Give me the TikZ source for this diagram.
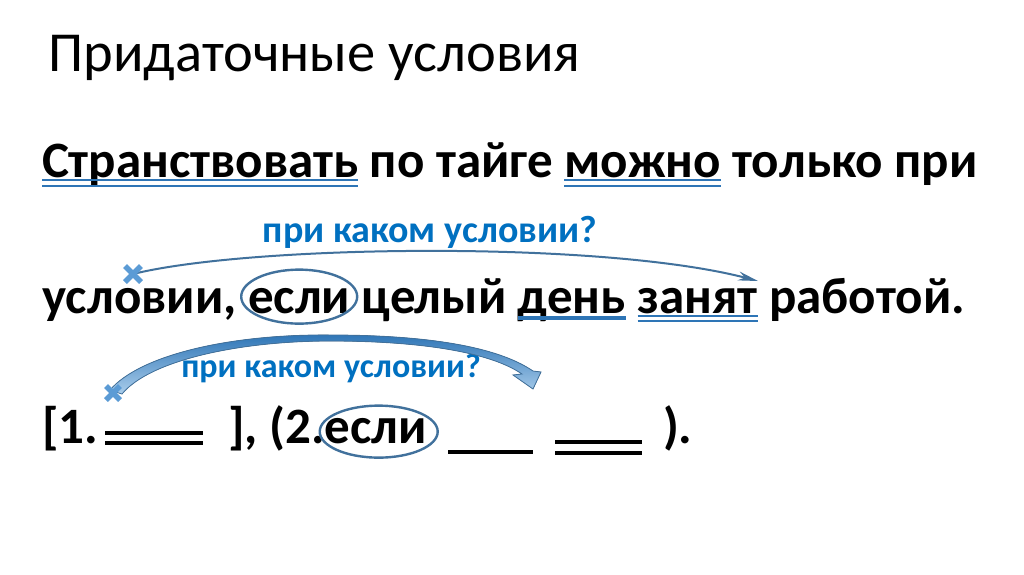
\documentclass[tikz,border=0pt]{standalone}
\usepackage{fontspec}
\setmainfont{Carlito}
\usetikzlibrary{arrows.meta,calc}
\definecolor{ublue}{RGB}{0,112,192}
\definecolor{lblue}{RGB}{46,117,182}
\definecolor{sblue}{RGB}{65,113,156}
\definecolor{xblue}{RGB}{91,155,213}
\definecolor{pblue}{RGB}{170,205,235}
\newcommand{\wsp}{\ \kern0pt}
\begin{document}
\begin{tikzpicture}[x=1pt,y=-1pt,
  word/.style={anchor=base west,inner sep=0pt,outer sep=0pt,font=\fontsize{51}{55}\selectfont\bfseries},
  qtext/.style={anchor=base,inner sep=0pt,text=ublue,font=\fontsize{38}{42}\selectfont\bfseries},
  dbl/.style={draw=lblue,line width=1.6pt},
  sgl/.style={draw=lblue,line width=3.5pt},
  bline/.style={draw=black,line width=3.5pt},
  ring/.style={draw=sblue,line width=2.4pt},
  xmark/.style={draw=xblue,line width=5.5pt},
  thinarrow/.style={draw=sblue,line width=2pt,-{Stealth[length=20pt,width=9pt,fill=xblue]}}]
\useasboundingbox (0,0) rectangle (1024,574);
\fill[white] (0,0) rectangle (1024,574);

\node[anchor=base west,inner sep=0pt,font=\fontsize{56.5}{60}\selectfont] (title) at (48,71) {Придаточные условия};

% line 1
\node[word] (w11) at (42,177) {Странствовать};
\node[word] (w12) at (w11.base east) {\ по тайге\wsp};
\node[word] (w13) at (w12.base east) {можно};
\node[word] (w14) at (w13.base east) {\ только при};
\foreach \w in {w11,w13}{
  \draw[dbl] ($(\w.base west)+(0,3)$) -- ($(\w.base east)+(0,3)$);
  \draw[dbl] ($(\w.base west)+(0,9)$) -- ($(\w.base east)+(0,9)$);
}

% question 1
\node[qtext] (q1) at (430,242) {при каком условии?};

% line 2
\node[word] (w21) at (42,313) {условии,\wsp};
\node[word] (w22) at (w21.base east) {если};
\node[word] (w23) at (w22.base east) {\ целый\wsp};
\node[word] (w24) at (w23.base east) {день};
\node[word] (w25) at (w24.base east) {\wsp};
\node[word] (w26) at (w25.base east) {занят};
\node[word] (w27) at (w26.base east) {\ работой.};
\draw[sgl] ($(w24.base west)+(0,5)$) -- ($(w24.base east)+(0,5)$);
\draw[dbl] ($(w26.base west)+(0,3)$) -- ($(w26.base east)+(0,3)$);
\draw[dbl] ($(w26.base west)+(0,8)$) -- ($(w26.base east)+(0,8)$);
\draw[ring] ($(w22.center)+(0,-4)$) ellipse [x radius=58, y radius=27];

% thin arrow
\coordinate (x1) at (133,274);
\coordinate (a1) at (758,281);
\draw[thinarrow] (x1) .. controls (250,245) and (600,240) .. (a1);
\draw[xmark] ($(x1)+(-8,-8)$) -- ($(x1)+(8,8)$);
\draw[xmark] ($(x1)+(-8,8)$) -- ($(x1)+(8,-8)$);

% question 2
\node[qtext,font=\fontsize{34}{38}\selectfont\bfseries] (q2) at (331,377) {при каком условии?};

% line 3
\node[word] (w31) at (42,443) {[1.};
\coordinate (b1s) at (105,433); \coordinate (b1e) at (203,433);
\draw[bline] (b1s) -- (b1e);
\draw[bline] ($(b1s)+(0,10)$) -- ($(b1e)+(0,10)$);
\node[word] (w32) at (228,443) {],\ (2.};
\node[word] (w33) at (w32.base east) {если};
\coordinate (s1s) at (448,452); \coordinate (s1e) at (533,452);
\draw[bline] (s1s) -- (s1e);
\coordinate (d2s) at (555,442); \coordinate (d2e) at (642,442);
\draw[bline] (d2s) -- (d2e);
\draw[bline] ($(d2s)+(0,11)$) -- ($(d2e)+(0,11)$);
\node[word] (w34) at (663,443) {).};
\draw[ring] ($(w33.center)+(3,1)$) ellipse [x radius=59, y radius=26];

% thick curved arrow
\coordinate (x2) at (113,393);
\fill[top color=lblue,bottom color=pblue,draw=sblue,line width=0.8pt]
  (110,390) .. controls (140,355) and (230,334) .. (330,335)
  .. controls (420,335) and (495,345) .. (533,371)
  -- (541,372) -- (533,389) -- (513,375) -- (522,374)
  .. controls (490,352) and (420,341) .. (330,341)
  .. controls (240,341) and (150,360) .. (122,394) -- cycle;
\draw[xmark] ($(x2)+(-7,-7)$) -- ($(x2)+(7,7)$);
\draw[xmark] ($(x2)+(-7,7)$) -- ($(x2)+(7,-7)$);
\end{tikzpicture}
\end{document}
